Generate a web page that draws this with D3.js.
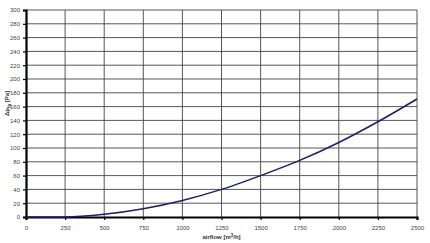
<!DOCTYPE html>
<html>
<head>
<meta charset="utf-8">
<script src="https://cdn.jsdelivr.net/npm/d3@7"></script>
<style>
  body { margin: 0; background: #fff; }
  svg text { font-family: Arial, "Liberation Sans", sans-serif; }
</style>
</head>
<body>
<div id="chart"></div>
<script>
// curve
var airflow = [0, 250, 500, 750, 1000, 1250, 1500, 1750, 2000, 2250, 2500];
var pressure = [0, 0, 4, 12, 24, 40, 60, 82, 108, 138, 171];
var xTicks = [0, 250, 500, 750, 1000, 1250, 1500, 1750, 2000, 2250, 2500];
var yTicks = d3.range(0, 301, 20);

var W = 430, H = 243
  , margin = { top: 10, right: 13, bottom: 26, left: 26 }
  , width = W - margin.left - margin.right
  , height = H - margin.top - margin.bottom;

var svg = d3.select('#chart').append('svg')
    .attr('width', W)
    .attr('height', H)
  .append('g')
    .attr('transform', 'translate(' + margin.left + ',' + margin.top + ')');

var x = d3.scaleLinear().domain([0, 2500]).range([0, width]);
var y = d3.scaleLinear().domain([0, 300]).range([height, 0]);

// grid
svg.append('g').selectAll('line.h')
    .data(yTicks.slice(1))
  .enter().append('line')
    .attr('x1', 0).attr('x2', width)
    .attr('y1', d => y(d)).attr('y2', d => y(d))
    .attr('stroke', '#444').attr('stroke-width', 0.9);

svg.append('g').selectAll('line.v')
    .data(xTicks.slice(1))
  .enter().append('line')
    .attr('y1', 0).attr('y2', height)
    .attr('x1', d => x(d)).attr('x2', d => x(d))
    .attr('stroke', '#444').attr('stroke-width', 0.9);

// axes
var axY = d3.axisLeft(y).tickValues(yTicks).tickSize(3).tickPadding(3);
var gy = svg.append('g').call(axY);
gy.select('.domain').attr('stroke-width', 2.2);
gy.selectAll('.tick line').attr('stroke-width', 1.2);
gy.selectAll('text').style('font-size', '6px').attr('fill', '#444');

var axX = d3.axisBottom(x).tickValues(xTicks).tickSize(3).tickPadding(6)
    .tickFormat(d3.format('d'));
var gx = svg.append('g')
    .attr('transform', 'translate(0,' + height + ')')
    .call(axX);
gx.select('.domain').attr('stroke-width', 2.2);
gx.selectAll('.tick line').attr('stroke-width', 1.2);
gx.selectAll('text').style('font-size', '6px').attr('fill', '#444');

// curve
var line = d3.line()
    .x((d, i) => x(airflow[i]))
    .y(d => y(d))
    .curve(d3.curveMonotoneX);

svg.append('path')
    .datum(pressure)
    .attr('d', line)
    .attr('fill', 'none')
    .attr('stroke', '#1c1c72')
    .attr('stroke-width', 1.5);

// labels
svg.append('text')
    .attr('x', width / 2)
    .attr('y', height + 22)
    .attr('text-anchor', 'middle')
    .style('font-size', '6px')
    .style('font-weight', 'bold')
    .attr('fill', '#333')
    .html('airflow [m<tspan dy="-2" font-size="4.5px">3</tspan><tspan dy="2">/h]</tspan>');

var yl = svg.append('text')
    .attr('transform', 'translate(-17,' + (height / 2 - 10) + ') rotate(-90)')
    .attr('text-anchor', 'middle')
    .style('font-size', '6px')
    .style('font-weight', 'bold')
    .attr('fill', '#333');
yl.append('tspan').text('Δp');
yl.append('tspan').attr('dy', 1.5).style('font-size', '4.5px').text('fa');
yl.append('tspan').attr('dy', -1.5).text(' [Pa]');
</script>
</body>
</html>
